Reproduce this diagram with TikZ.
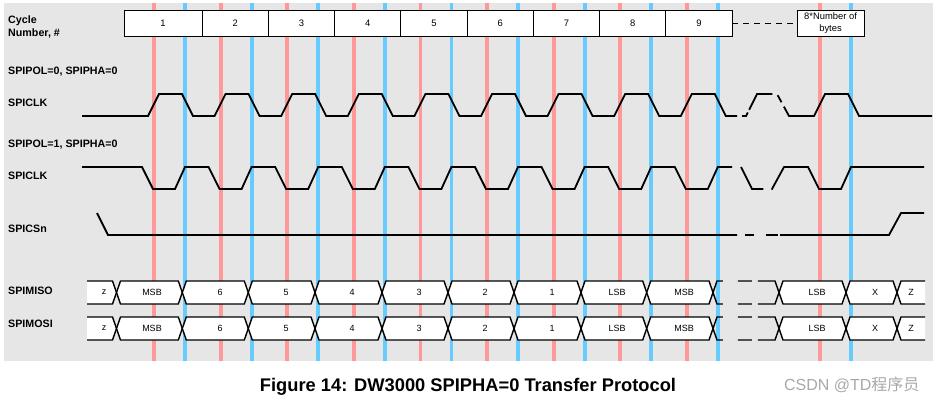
\documentclass[tikz,border=0pt]{standalone}
\usepackage{fontspec}
\setmainfont{Liberation Sans}
\newfontfamily\cjkfont{Noto Sans CJK SC}
\usetikzlibrary{positioning}
\definecolor{spiBack}{HTML}{E6E6E6}
\definecolor{spiSample}{HTML}{FF9999}
\definecolor{spiShift}{HTML}{66CCFF}
\definecolor{spiMark}{HTML}{A8A8A8}

\begin{document}
\begin{tikzpicture}[x=1pt, y=-1pt,
  sig/.style={anchor=base west, align=left, inner sep=0pt,
              font=\fontsize{10.7}{12.8}\selectfont\bfseries},
  cyc/.style={draw, fill=white, line width=0.9pt, outer sep=0pt, inner sep=1pt,
              minimum height=26pt, minimum width=66.25pt, align=center,
              font=\fontsize{9.4}{12.3}\selectfont},
  samplen/.style={spiSample, line width=3.8pt},
  shiftln/.style={spiShift, line width=3.8pt},
  wave/.style={line width=1.8pt, line join=miter},
  bus/.style={draw, fill=white, line width=1.4pt},
  busline/.style={line width=1.4pt},
  val/.style={inner sep=0pt, font=\fontsize{9}{10}\selectfont}
]
  \useasboundingbox (0,0) rectangle (939,402);
  \fill[spiBack] (4,3) rectangle (933,361);

  \foreach \k in {0,1,2,3,4,5,6,7,8,10} {
    \draw[samplen] ({154+66.6*\k},3) -- ({154+66.6*\k},361);
    \draw[shiftln] ({185+66.6*\k},3) -- ({185+66.6*\k},361);
  }

  \node[cyc, minimum width=78pt] (c1) at (163,23) {1};
  \foreach \n [evaluate=\n as \p using int(\n-1)] in {2,...,9}
    \node[cyc, right=0pt of c\p] (c\n) {\n};
  \node[cyc, right=65pt of c9, minimum width=67pt] (cn) {8*Number of\\bytes};
  \draw[line width=0.9pt, dash pattern=on 6pt off 5pt] (c9.east) -- (cn.west);

  \node[sig] (lcyc) at (8,36) {Cycle\\Number, \#};
  \node[sig] (lpol0) at (8,74) {SPIPOL=0, SPIPHA=0};
  \node[sig] (lclk0) at (8,106) {SPICLK};
  \node[sig] (lpol1) at (8,147.3) {SPIPOL=1, SPIPHA=0};
  \node[sig] (lclk1) at (8,179.3) {SPICLK};
  \node[sig] (lcs) at (8,232.3) {SPICSn};
  \node[sig] (lmiso) at (8,294.3) {SPIMISO};
  \node[sig] (lmosi) at (8,327.3) {SPIMOSI};

  \draw[wave] (82,116) \foreach \k in {0,...,8} {
      -- ({148+66.6*\k},116) -- ({159+66.6*\k},94)
      -- ({182+66.6*\k},94) -- ({193+66.6*\k},116) } -- (737,116);
  \draw[wave, dash pattern=on 0pt off 5pt on 8pt off 3pt on 33pt off 6pt on 8pt off 5pt on 40pt]
    (737,116) -- (746,116) -- (757,94) -- (777,94) -- (789,116) -- (791,116);
  \draw[wave] (791,116) -- (814,116) -- (825,94) -- (848,94) -- (859,116) -- (932,116);

  \draw[wave] (82,167) \foreach \k in {0,...,8} {
      -- ({142+66.6*\k},167) -- ({153+66.6*\k},189)
      -- ({175+66.6*\k},189) -- ({185+66.6*\k},167) } -- (732,167);
  \draw[wave, dash pattern=on 0pt off 9pt on 36pt off 8pt on 60pt]
    (732,167) -- (741,167) -- (752,189) -- (772,189) -- (784,167) -- (790,167);
  \draw[wave] (790,167) -- (808,167) -- (819,189) -- (841,189) -- (851,167) -- (924,167);

  \draw[wave] (97,213) -- (108,235) -- (737,235);
  \draw[wave, dash pattern=on 0pt off 8pt on 9pt off 12pt on 12pt off 2pt on 10pt]
    (737,235) -- (780,235);
  \draw[wave] (780,235) -- (889,235) -- (901,213) -- (924,213);

  \foreach \y/\rw in {292.5/miso, 328.5/mosi} {
    \draw[bus] (87,\y-11.5) -- (112.5,\y-11.5) -- (116.5,\y)
      -- (112.5,\y+11.5) -- (87,\y+11.5);
    \node[val] (\rw z) at (104,\y) {z};
    \foreach \a/\b/\c/\t [count=\i] in {116.5/182.3/152/MSB, 182.3/248.3/220/6,
        248.3/315/286/5, 315/382/352/4, 382/448/419/3, 448/514/485/2,
        514/581/552/1, 581/646.7/617/LSB, 646.7/713/684/MSB,
        779/846/817/LSB, 846/897/875/X} {
      \draw[bus] (\a,\y) -- (\a+4,\y-11.5) -- (\b-4,\y-11.5) -- (\b,\y)
        -- (\b-4,\y+11.5) -- (\a+4,\y+11.5) -- cycle;
      \node[val] (\rw\i) at (\c,\y) {\t};
    }
    \draw[bus] (925,\y-11.5) -- (901,\y-11.5) -- (897,\y) -- (901,\y+11.5) -- (925,\y+11.5);
    \node[val] (\rw end) at (911,\y) {Z};
    \draw[busline, dash pattern=on 18pt off 15pt on 14pt off 6pt on 40pt]
      (713,\y) -- (717,\y-11.5) -- (775,\y-11.5) -- (779,\y);
    \draw[busline, dash pattern=on 18pt off 15pt on 14pt off 6pt on 40pt]
      (713,\y) -- (717,\y+11.5) -- (775,\y+11.5) -- (779,\y);
  }

  \node[anchor=base, font=\fontsize{18.3}{20}\selectfont\bfseries] (cap) at (468,391)
    {Figure 14: DW3000 SPIPHA=0 Transfer Protocol};
  \node[anchor=base east, text=spiMark, font=\fontsize{16}{18}\selectfont] (wm) at (923,390)
    {CSDN @TD{\cjkfont 程序员}};
\end{tikzpicture}
\end{document}
